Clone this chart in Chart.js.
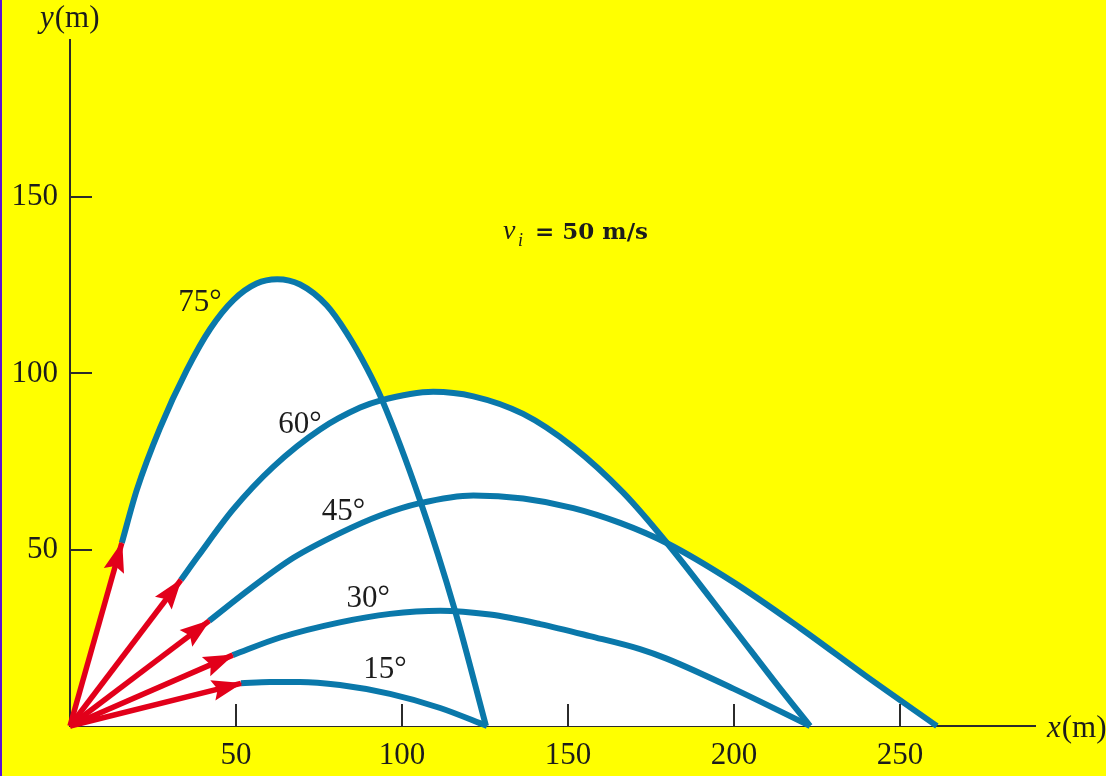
<!DOCTYPE html>
<html><head><meta charset="utf-8">
<script src="https://cdn.jsdelivr.net/npm/chart.js@4.4.1/dist/chart.umd.min.js"></script>
<style>
html,body{margin:0;padding:0;background:#ffff00;overflow:hidden}
#wrap{position:relative;width:1106px;height:776px}
#edge{position:absolute;left:0;top:0;width:2px;height:776px;background:#5a10d8}
canvas{display:block}
</style></head><body>
<div id="wrap"><canvas id="c" width="1106" height="776"></canvas><div id="edge"></div></div>
<script>
// ---- data (x in m, y in m) ----
const angleLabels = ['15°', '30°', '45°', '60°', '75°'];
const x15 = [51.5, 60.2, 69.3, 81.3, 96.4, 111.5, 125.6];
const y15 = [12.1, 12.5, 12.5, 11.6, 9.1, 5.1, 0];
const x30 = [49.0, 63.3, 81.3, 96.4, 111.5, 126.5, 141.6, 156.6, 171.7, 179.7, 199.8, 222.9];
const y30 = [20.1, 25.1, 29.4, 31.8, 32.7, 31.6, 28.9, 25.5, 21.8, 19.1, 10.6, 0];
const x45 = [41.9, 54.5, 67.3, 81.3, 93.4, 105.4, 121.5, 136.5, 151.6, 165.7, 179.7, 199.8, 219.9, 240.0, 261.1];
const y45 = [29.8, 39.1, 47.7, 54.7, 59.7, 63.2, 65.4, 64.5, 61.8, 57.6, 51.9, 40.8, 27.8, 14.0, 0];
const x60 = [33.4, 38.6, 49.2, 61.2, 75.3, 87.4, 93.4, 109.4, 121.5, 136.5, 151.6, 166.7, 179.8, 199.8, 212.9, 222.9];
const y60 = [41.4, 48.2, 61.5, 73.5, 84.1, 90.3, 92.3, 94.8, 93.5, 88.5, 79.1, 66.1, 51.9, 27.8, 11.8, 0];
const x75 = [15.6, 20.1, 27.1, 35.2, 42.2, 49.2, 56.2, 62.4, 69.3, 77.3, 83.3, 89.4, 93.9, 105.4, 116.0, 125.3];
const y75 = [51.9, 66.9, 84.5, 101.0, 112.6, 120.8, 125.5, 126.7, 125.2, 119.3, 111.5, 101.5, 92.7, 64.1, 32.6, 0];
const xTicks = [50, 100, 150, 200, 250];
const yTicks = [50, 100, 150];
const speedText = '= 50 m/s';

// ---- styling / layout ----
const BLUE = '#0a78aa', RED = '#e2001a', INK = '#1c1c1c', AXIS = '#2b2b2b';
const SERIF = '"Liberation Serif", "Times New Roman", serif';
// label anchors (data units, left/baseline)
const labelAnchors = [[88.3, 13.5], [83.3, 33.7], [75.8, 58.4], [62.7, 83.0], [32.6, 117.6]];

const curves = [[x15, y15], [x30, y30], [x45, y45], [x60, y60], [x75, y75]];
const pts = (xs, ys) => xs.map((x, i) => ({x, y: ys[i]}));

const datasets = [];
curves.forEach(([xs, ys]) => {
  datasets.push({
    data: [{x: 0, y: 0}, ...pts(xs, ys)],
    fill: 'origin', backgroundColor: '#ffffff', borderWidth: 0,
    pointRadius: 0, cubicInterpolationMode: 'monotone', order: 3
  });
});
curves.forEach(([xs, ys]) => {
  datasets.push({
    data: pts(xs, ys), fill: false, borderColor: BLUE, borderWidth: 6,
    pointRadius: 0, cubicInterpolationMode: 'monotone', order: 2, clip: false,
    borderCapStyle: 'butt'
  });
});
curves.forEach(([xs, ys]) => {
  datasets.push({
    data: [{x: 0, y: 0}, {x: xs[0], y: ys[0]}], fill: false, borderColor: RED,
    borderWidth: 5.5, pointRadius: 0, order: 1, clip: false, isArrow: true,
    borderCapStyle: 'butt'
  });
});

const decor = {
  id: 'decor',
  afterDatasetsDraw(chart) {
    const ctx = chart.ctx, xs = chart.scales.x, ys = chart.scales.y;
    const ca = chart.chartArea;
    // arrow heads
    chart.data.datasets.forEach((ds, i) => {
      if (!ds.isArrow) return;
      const m = chart.getDatasetMeta(i);
      const p0 = m.data[0], p1 = m.data[1];
      const a = Math.atan2(p1.y - p0.y, p1.x - p0.x);
      const L = 29, W = 10.5, N = 5;
      ctx.save();
      ctx.translate(p1.x, p1.y); ctx.rotate(a);
      ctx.fillStyle = RED;
      ctx.beginPath();
      ctx.moveTo(1.5, 0); ctx.lineTo(-L, -W); ctx.lineTo(-L + N, 0); ctx.lineTo(-L, W);
      ctx.closePath(); ctx.fill();
      ctx.restore();
    });
    // inward tick marks
    ctx.save();
    ctx.strokeStyle = AXIS; ctx.lineWidth = 2;
    xTicks.forEach(v => {
      const px = Math.round(xs.getPixelForValue(v));
      ctx.beginPath(); ctx.moveTo(px, ca.bottom); ctx.lineTo(px, ca.bottom - 22); ctx.stroke();
    });
    yTicks.forEach(v => {
      const py = Math.round(ys.getPixelForValue(v));
      ctx.beginPath(); ctx.moveTo(ca.left, py); ctx.lineTo(ca.left + 22, py); ctx.stroke();
    });
    ctx.restore();
  },
  afterDraw(chart) {
    const ctx = chart.ctx, xs = chart.scales.x, ys = chart.scales.y;
    ctx.save();
    ctx.fillStyle = INK; ctx.textBaseline = 'alphabetic'; ctx.textAlign = 'left';
    // angle labels
    ctx.font = '31px ' + SERIF;
    angleLabels.forEach((t, i) => {
      ctx.fillText(t, xs.getPixelForValue(labelAnchors[i][0]), ys.getPixelForValue(labelAnchors[i][1]));
    });
    // axis titles
    const axisTitle = (v, x, y) => {
      ctx.font = 'italic 31px ' + SERIF;
      ctx.fillText(v, x, y);
      const w = ctx.measureText(v).width;
      ctx.font = '31px ' + SERIF;
      ctx.fillText('(m)', x + w + 1, y);
    };
    axisTitle('y', 40, 27);
    axisTitle('x', 1047, 737);
    // speed annotation
    ctx.font = 'italic 28px ' + SERIF;
    ctx.fillText('v', 503, 239);
    ctx.font = 'italic 18px ' + SERIF;
    ctx.fillText('i', 518, 246);
    ctx.font = 'bold 23px "DejaVu Serif", serif';
    ctx.fillText(speedText, 535, 239);
    ctx.restore();
  }
};

Chart.defaults.font.family = SERIF;
new Chart(document.getElementById('c'), {
  type: 'line',
  data: {datasets},
  options: {
    responsive: false, animation: false, events: [],
    layout: {padding: {left: 0, right: 71, top: 40, bottom: 0}},
    plugins: {legend: {display: false}, tooltip: {enabled: false}},
    scales: {
      x: {
        type: 'linear', min: 0, max: 290.66, z: 1,
        grid: {display: false, drawTicks: false},
        border: {display: true, color: AXIS, width: 2},
        afterBuildTicks: s => { s.ticks = xTicks.map(v => ({value: v})); },
        afterFit: s => { s.height = 50; },
        ticks: {color: INK, font: {size: 31, family: SERIF}, padding: 11, maxRotation: 0, autoSkip: false}
      },
      y: {
        type: 'linear', min: 0, max: 194.55, z: 1,
        grid: {display: false, drawTicks: false},
        border: {display: true, color: AXIS, width: 2},
        afterBuildTicks: s => { s.ticks = yTicks.map(v => ({value: v})); },
        afterFit: s => { s.width = 70; },
        ticks: {color: INK, font: {size: 31, family: SERIF}, padding: 12, autoSkip: false}
      }
    }
  },
  plugins: [decor]
});
</script>
</body></html>
